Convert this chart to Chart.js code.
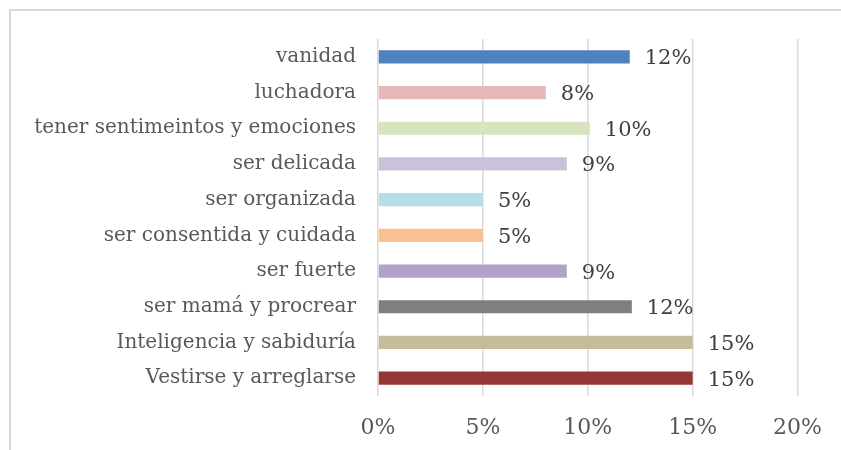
<!DOCTYPE html>
<html>
<head>
<meta charset="utf-8">
<script src="https://cdn.jsdelivr.net/npm/chart.js@4.4.0/dist/chart.umd.min.js"></script>
<style>
  html, body { margin: 0; padding: 0; background: #fff; overflow: hidden; }
  #frame { position: absolute; left: 9px; top: 9px; width: 900px; height: 500px; border-left: 2px solid #d9d9d9; border-top: 2px solid #d9d9d9; }
  #wrap { position: absolute; left: 0; top: 0; width: 841px; height: 450px; }
</style>
</head>
<body>
<div id="frame"></div>
<div id="wrap"><canvas id="chart" width="841" height="450"></canvas></div>
<script>
// Categories, top to bottom as in the picture
const categories = [
    'vanidad',
    'luchadora',
    'tener sentimeintos y emociones',
    'ser delicada',
    'ser organizada',
    'ser consentida y cuidada',
    'ser fuerte',
    'ser mamá y procrear',
    'Inteligencia y sabiduría',
    'Vestirse y arreglarse'
];
// Percentages
const values = [12, 8, 10.1, 9, 5, 5, 9, 12.1, 15, 15];
const barColors = [
    '#4f81bd', '#e6b9b8', '#d7e4bd', '#ccc1da', '#b7dee8',
    '#fac090', '#b3a2c7', '#7f7f7f', '#c4bd97', '#953735'
];
const tickValues = [0, 5, 10, 15, 20];

const serif = '"DejaVu Serif", "Liberation Serif", serif';

// draws the "12%" style labels right of each bar
const valueLabels = {
    id: 'valueLabels',
    afterDatasetsDraw(chart) {
        const ctx = chart.ctx;
        const meta = chart.getDatasetMeta(0);
        ctx.save();
        ctx.font = '21px ' + serif;
        ctx.fillStyle = '#404040';
        ctx.textBaseline = 'middle';
        ctx.textAlign = 'left';
        meta.data.forEach((bar, i) => {
            ctx.fillText(Math.round(values[i]) + '%', bar.x + 15, bar.y + 2);
        });
        ctx.restore();
    }
};

new Chart(document.getElementById('chart'), {
    type: 'bar',
    data: {
        labels: categories,
        datasets: [{
            data: values,
            backgroundColor: barColors,
            barPercentage: 0.37,
            categoryPercentage: 1
        }]
    },
    options: {
        indexAxis: 'y',
        responsive: false,
        animation: false,
        layout: { padding: { top: 39, right: 41, left: 0, bottom: 0 } },
        plugins: { legend: { display: false }, tooltip: { enabled: false } },
        scales: {
            x: {
                min: 0,
                max: 20,
                afterBuildTicks: s => { s.ticks = tickValues.map(v => ({ value: v })); },
                afterFit: s => { s.height = 54; },
                grid: { color: '#d9d9d9', lineWidth: 1.5, drawTicks: false },
                border: { display: false },
                ticks: {
                    padding: 19,
                    color: '#595959',
                    font: { family: serif, size: 22 },
                    callback: v => v + '%'
                }
            },
            y: {
                afterFit: s => { s.width = 378; },
                grid: { display: false, drawTicks: false },
                border: { display: false },
                ticks: {
                    padding: 22,
                    color: '#595959',
                    font: { family: serif, size: 20 }
                }
            }
        }
    },
    plugins: [valueLabels]
});
</script>
</body>
</html>
